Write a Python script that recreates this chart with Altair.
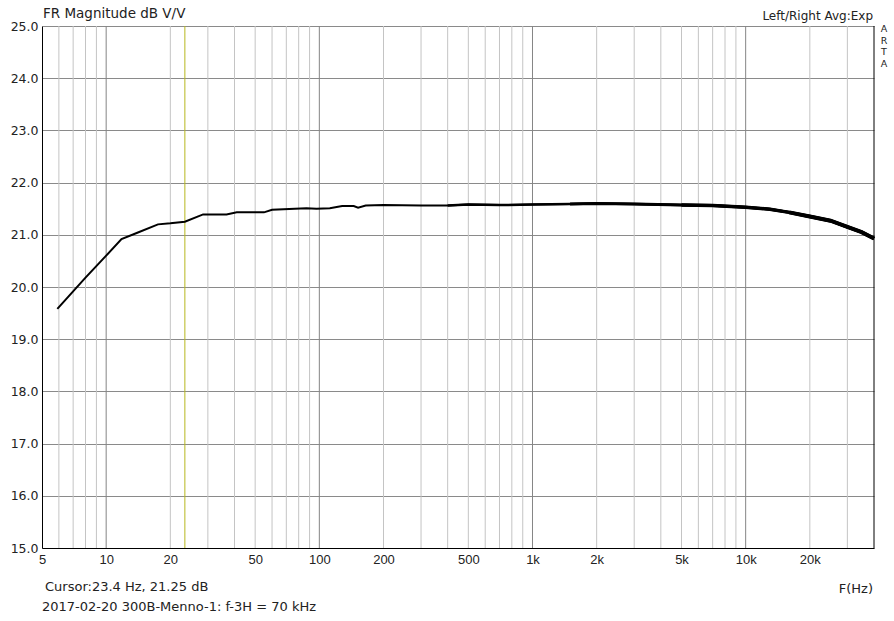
import altair as alt
import pandas as pd

# ---- data ----
freq_hz = [5.9, 8, 10, 11.8, 14, 17.5, 20, 23.4, 28.5, 36.7, 41, 55, 60, 87, 97,
           112, 128, 145, 152, 165, 200, 300, 400, 500, 700, 1000, 1500, 2000,
           3000, 5000, 7000, 10000, 13000, 16000, 20000, 25000, 30000, 35000, 40000]
mag_db = [19.58, 20.18, 20.60, 20.92, 21.04, 21.20, 21.22, 21.25, 21.39, 21.39, 21.43,
          21.43, 21.48, 21.51, 21.50, 21.51, 21.55, 21.55, 21.52, 21.56, 21.57, 21.56,
          21.56, 21.58, 21.57, 21.58, 21.59, 21.60, 21.59, 21.57, 21.56, 21.53, 21.49,
          21.43, 21.35, 21.27, 21.15, 21.05, 20.93]

x_tick_values = [5, 10, 20, 50, 100, 200, 500, 1000, 2000, 5000, 10000, 20000]
y_tick_values = [15, 16, 17, 18, 19, 20, 21, 22, 23, 24, 25]
grid_major = [10, 100, 1000, 10000]
grid_minor = [6, 7, 8, 9, 20, 30, 40, 50, 60, 70, 80, 90,
              200, 300, 400, 500, 600, 700, 800, 900,
              2000, 3000, 4000, 5000, 6000, 7000, 8000, 9000,
              20000, 30000]
cursor_hz = [23.4]
right_edge_hz = [40000]
side_letters = ["A", "R", "T", "A"]

FONT = "DejaVu Sans"
XFONT = "Liberation Sans"
TXT = "#222222"

xs = alt.Scale(type="log", domain=[5, 40000], nice=False)
ys = alt.Scale(domain=[15, 25], nice=False, zero=False)

curve = pd.DataFrame({"f": freq_hz, "db": mag_db})

minor = alt.Chart(pd.DataFrame({"f": grid_minor})).mark_rule(
    color="#c4c4c4", strokeWidth=1
).encode(x=alt.X("f:Q", scale=xs))

major = alt.Chart(pd.DataFrame({"f": grid_major})).mark_rule(
    color="#858585", strokeWidth=1
).encode(x=alt.X("f:Q", scale=xs))

right_edge = alt.Chart(pd.DataFrame({"f": right_edge_hz})).mark_rule(
    color="#000000", strokeWidth=1
).encode(x=alt.X("f:Q", scale=xs))

cursor = alt.Chart(pd.DataFrame({"f": cursor_hz})).mark_rule(
    color="#b8b81e", strokeWidth=1
).encode(x=alt.X("f:Q", scale=xs))

axes = alt.Chart(curve).mark_line(opacity=0).encode(
    x=alt.X("f:Q", scale=xs, title=None,
            axis=alt.Axis(values=x_tick_values, grid=False, ticks=False,
                          domainColor="#000", domainWidth=1,
                          labelExpr="datum.value >= 1000 ? (datum.value/1000) + 'k' : datum.value",
                          labelFont=XFONT, labelFontSize=13, labelColor=TXT,
                          labelPadding=5, labelFlush=False, labelOverlap=False)),
    y=alt.Y("db:Q", scale=ys, title=None,
            axis=alt.Axis(values=y_tick_values, format=".1f", grid=True,
                          gridColor="#8a8a8a", gridWidth=1, ticks=False,
                          domainColor="#000", domainWidth=1,
                          labelFont=FONT, labelFontSize=12.5, labelColor=TXT,
                          labelPadding=4)),
)


def seg(min_f, width):
    return alt.Chart(curve).transform_filter(f"datum.f >= {min_f}").mark_line(
        color="#000", strokeWidth=width).encode(
        x=alt.X("f:Q", scale=xs), y=alt.Y("db:Q", scale=ys))


lines = [seg(0, 2), seg(400, 2.5), seg(1500, 3), seg(5000, 3.5), seg(15000, 4)]


def label(text, x, y, align="left", size=13, font=FONT):
    return alt.Chart(pd.DataFrame({"t": [text]})).mark_text(
        font=font, fontSize=size, color=TXT, align=align, baseline="middle"
    ).encode(text="t:N", x=alt.value(x), y=alt.value(y))


texts = [
    label("FR Magnitude dB V/V", 1, -12, size=13.5),
    label("Left/Right Avg:Exp", 831, -10, align="right", size=12),
    label("Cursor:23.4 Hz, 21.25 dB", 3, 560.5, size=13),
    label("2017-02-20 300B-Menno-1: f-3H = 70 kHz", 0, 581, size=13),
    label("F(Hz)", 831, 563, align="right", size=13),
]
for i, ch in enumerate(side_letters):
    texts.append(label(ch, 842, 3 + 11.5 * i, align="center", size=9.5))

chart = alt.layer(minor, major, axes, cursor, right_edge, *lines, *texts).properties(
    width=832, height=522,
    padding={"left": 42, "top": 26, "right": 20, "bottom": 73},
    autosize=alt.AutoSizeParams(type="none"),
    background="#ffffff",
).configure_view(stroke=None)

chart.save("out.html", embed_options={"renderer": "svg", "actions": False})
